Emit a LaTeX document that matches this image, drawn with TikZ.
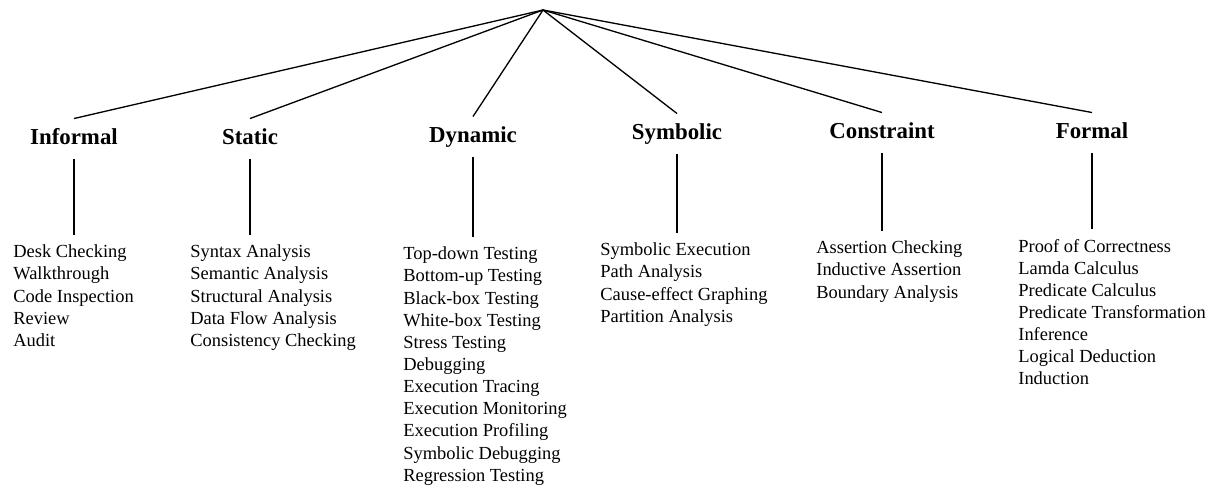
\documentclass[tikz,border=0pt]{standalone}
\usepackage{fontspec}
\setmainfont{Liberation Serif}

\begin{document}
\begin{tikzpicture}[x=0.02cm,y=-0.02cm,
  head/.style={font=\fontsize{13}{15}\selectfont\bfseries,anchor=base,inner sep=0pt,
               text height=9pt,text depth=3pt,outer sep=5.5pt},
  lst/.style={font=\fontsize{10.5}{12.6}\selectfont,anchor=north west,align=left,
              inner xsep=0pt,inner ysep=5.5pt},
  ln/.style={draw=black,line width=0.75pt}]
\useasboundingbox (0,0) rectangle (1222,494);

\coordinate (top) at (543,10);

% categories
\node[head](hInf) at (74,144){Informal};
\node[head](hSta) at (250,144){Static};
\node[head](hDyn) at (473,142){Dynamic};
\node[head](hSym) at (677,139){Symbolic};
\node[head](hCon) at (882,138){Constraint};
\node[head](hFor) at (1092,138){Formal};

% techniques
\node[lst](lInf) at (13,235){Desk Checking\\Walkthrough\\Code Inspection\\Review\\Audit};
\node[lst](lSta) at (190,235){Syntax Analysis\\Semantic Analysis\\Structural Analysis\\Data Flow Analysis\\Consistency Checking};
\node[lst](lDyn) at (403,237){Top-down Testing\\Bottom-up Testing\\Black-box Testing\\White-box Testing\\Stress Testing\\Debugging\\Execution Tracing\\Execution Monitoring\\Execution Profiling\\Symbolic Debugging\\Regression Testing};
\node[lst](lSym) at (600,233){Symbolic Execution\\Path Analysis\\Cause-effect Graphing\\Partition Analysis};
\node[lst](lCon) at (816,231){Assertion Checking\\Inductive Assertion\\Boundary Analysis};
\node[lst](lFor) at (1018,229){Proof of Correctness\\Lamda Calculus\\Predicate Calculus\\Predicate Transformation\\Inference\\Logical Deduction\\Induction};

\foreach \h in {hInf,hSta,hDyn,hSym,hCon,hFor} \draw[ln](top)--(\h.north);
\foreach \h/\l in {hInf/lInf,hSta/lSta,hDyn/lDyn,hSym/lSym,hCon/lCon,hFor/lFor}
  \draw[ln](\h.south)--(\h.south |- \l.north);
\end{tikzpicture}
\end{document}
